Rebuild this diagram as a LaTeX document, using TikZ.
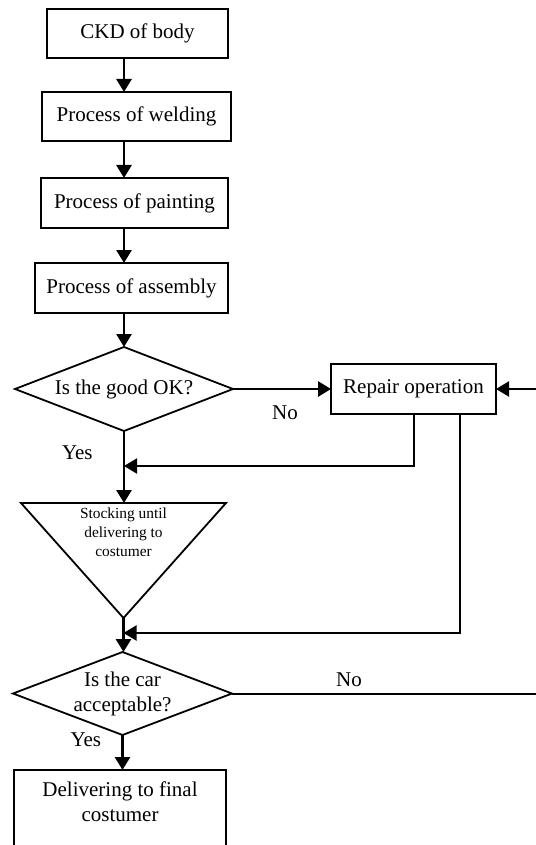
\documentclass[tikz,border=0pt]{standalone}
\usepackage{fontspec}
\setmainfont{Liberation Serif}
\usetikzlibrary{shapes.geometric,arrows.meta,positioning}

\begin{document}
\begin{tikzpicture}[
    box/.style={rectangle, draw, line width=0.9pt, outer sep=0pt, minimum height=24.5pt, inner sep=2pt, align=center, font=\fontsize{10.5}{12.5}\selectfont},
    decision/.style={diamond, draw, line width=0.9pt, outer sep=0pt, inner sep=0pt, aspect=2.6, align=center, font=\fontsize{10.5}{12.5}\selectfont},
    tag/.style={font=\fontsize{10.5}{12.5}\selectfont, inner sep=1pt},
    arrow/.style={-{Triangle[length=6.5pt,width=7.5pt]}, line width=1.4pt},
    thinarrow/.style={-{Triangle[length=6.5pt,width=7.5pt]}, line width=1pt}
]

\useasboundingbox (0,0) rectangle (267.5pt,-422.5pt);

% Production line
\node[box, minimum width=90.5pt] (ckd) at (68.75pt,-16.75pt) {CKD of body};
\node[box, below=17pt of ckd, xshift=-0.5pt, minimum width=94.5pt] (weld) {Process of welding};
\node[box, below=18.5pt of weld, xshift=-1pt, minimum width=93.5pt, minimum height=25pt] (paint) {Process of painting};
\node[box, below=17.5pt of paint, xshift=-1.5pt, minimum width=96.5pt, minimum height=25pt] (asm) {Process of assembly};

% First check and repair
\node[decision, below=17pt of asm, xshift=-3.75pt, minimum width=109pt, minimum height=42pt] (good) {Is the good OK?};
\node[box, right=49pt of good, minimum width=82.5pt, minimum height=25pt] (repair) {Repair operation};

% Stocking
\node[minimum width=102.5pt, minimum height=57.5pt, inner sep=0pt, outer sep=0pt, below=36pt of good, xshift=-0.25pt] (stock) {};
\draw[line width=0.9pt] (stock.north west) -- (stock.north east) -- (stock.south) -- cycle;
\node[font=\fontsize{7.7}{9.5}\selectfont, align=center, inner sep=0pt, below=2pt of stock.north] (stocktxt) {Stocking until\\delivering to\\costumer};

% Final check and delivery
\node[decision, below=17pt of stock, xshift=-0.5pt, minimum width=109.5pt, minimum height=41.5pt] (car) {Is the car\\acceptable?};
\node[box, below=17.5pt of car, xshift=-1.25pt, minimum width=106pt, inner ysep=6pt, text depth=32pt] (deliver) {Delivering to final\\costumer};

\coordinate[below=17.5pt of good.south] (join1);
\coordinate[below=7.5pt of stock.south] (join2);
\coordinate[right=22pt of repair.east] (loop);

% Connectors
\draw[arrow] (ckd.south -| good) -- (weld.north -| good);
\draw[arrow] (weld.south -| good) -- (paint.north -| good);
\draw[arrow] (paint.south -| good) -- (asm.north -| good);
\draw[arrow] (asm.south -| good) -- (good.north);
\draw[arrow] (good.east) -- node[tag, below=6.5pt, pos=0.53] (no1) {No} (repair.west);
\draw[arrow] (good.south) -- node[tag, left=14pt, pos=0.3] (yes1) {Yes} (good.south |- stock.north);
\draw[thinarrow] (repair.south) |- (join1);
\draw[thinarrow] ([xshift=-18pt]repair.south east) |- (join2);
\draw[arrow] (stock.south) -- (stock.south |- car.north);
\draw[arrow] (car.south) -- node[tag, left=9pt, pos=0.14] (yes2) {Yes} (car.south |- deliver.north);
\draw[thinarrow] (car.east) -- node[tag, above=2pt, pos=0.38] (no2) {No} (car.east -| loop) -- (loop) -- (repair.east);

\end{tikzpicture}
\end{document}
